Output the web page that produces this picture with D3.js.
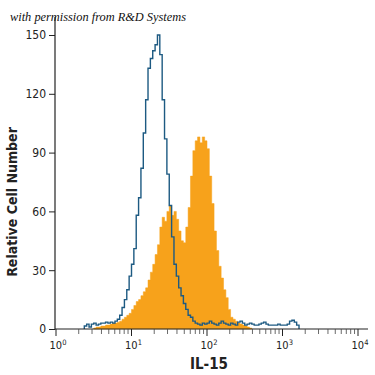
<!DOCTYPE html>
<html>
<head>
<meta charset="utf-8">
<script src="https://cdn.jsdelivr.net/npm/d3@7"></script>
<style>
html,body{margin:0;padding:0;background:#fff;}
svg{display:block;}
</style>
</head>
<body>
<svg id="chart" width="375" height="375"></svg>
<script>
// ---- data ----
const channelStartLog = 0.375;   // log10 of first channel's lower edge
const channelStepLog = 1 / 32;   // channel width in decades
const isotypeCounts = [
  1.5, 2.5, 1, 2.5, 3, 2, 2.5, 3, 3, 3.5, 3, 3.5, 3, 4, 5, 7, 11, 15, 20, 27,
  33, 41, 58, 67, 82, 100, 117, 133, 138, 142, 145, 150, 140, 117, 97, 79, 63, 47, 33, 27,
  21, 17, 13, 10, 7, 6, 4, 3, 2.5, 2, 3, 2.5, 3, 4, 3, 2.5, 2, 3, 4, 3,
  2.5, 2, 3, 2.5, 2, 3.5, 4, 3, 2, 2.5, 3, 2.5, 2, 2, 2.5, 3, 3.5, 2.5, 2, 2,
  2, 2, 2.5, 2, 2, 2, 2.5, 4, 4.5, 3.5, 2
];
const il15Counts = [
  0, 0, 0, 0, 0.5, 1, 1, 1.5, 1.5, 2, 2, 2.5, 3, 3, 3.5, 4, 5, 6, 7, 8,
  10, 12, 14, 15, 17, 19, 21, 25, 29, 33, 38, 43, 52, 57, 55, 60, 63, 58, 60, 56,
  50, 45, 44, 52, 62, 78, 91, 96, 98, 95, 98, 96, 92, 78, 64, 50, 40, 32, 26, 20,
  16, 10, 6, 5, 4, 3, 2.5, 2, 1.5, 1, 0.5
];
const yTicks = [0, 30, 60, 90, 120, 150];
const xDecades = [0, 1, 2, 3, 4];
const titleText = "with permission from R&D Systems";
const xLabel = "IL-15";
const yLabel = "Relative Cell Number";

// ---- drawing ----
const svg = d3.select("#chart");
const x = d3.scaleLog().domain([1, 1e4]).range([56, 358]);
const y = d3.scaleLinear().domain([0, 150]).range([329, 35]);

function stepPoints(counts) {
  const pts = [];
  let first = -1, last = -1;
  counts.forEach((c, i) => { if (c > 0) { if (first < 0) first = i; last = i; } });
  const edge = i => Math.pow(10, channelStartLog + i * channelStepLog);
  pts.push([edge(first), 0]);
  for (let i = first; i <= last; i++) {
    pts.push([edge(i), counts[i]]);
    pts.push([edge(i + 1), counts[i]]);
  }
  pts.push([edge(last + 1), 0]);
  return pts;
}

const line = d3.line().x(d => x(d[0])).y(d => y(d[1]));

// filled IL-15 histogram
svg.append("path")
  .attr("d", line(stepPoints(il15Counts)) + "Z")
  .attr("fill", "#F7A21B")
  .attr("stroke", "#F7A21B")
  .attr("stroke-width", 0.5);

// isotype outline
svg.append("path")
  .attr("d", line(stepPoints(isotypeCounts)))
  .attr("fill", "none")
  .attr("stroke", "#1d5a82")
  .attr("stroke-width", 1.4)
  .attr("stroke-linejoin", "miter");

const axisFont = "'Liberation Sans Narrow','DejaVu Sans Condensed',sans-serif";

// y axis
const yAxis = svg.append("g").attr("transform", "translate(55,0)")
  .call(d3.axisLeft(y).tickValues(yTicks).tickSize(6).tickPadding(3));
yAxis.select(".domain").remove();
yAxis.selectAll("line").attr("stroke", "#222");
yAxis.selectAll("text").attr("font-family", axisFont).attr("font-size", 12).attr("fill", "#222");
svg.append("line").attr("x1", 55).attr("x2", 55).attr("y1", 17).attr("y2", y(0) + 0.5)
  .attr("stroke", "#222").attr("stroke-width", 1.2);

// x axis
svg.append("line").attr("x1", 55).attr("x2", 368).attr("y1", y(0)).attr("y2", y(0))
  .attr("stroke", "#222").attr("stroke-width", 1.2);
const minor = [];
for (let d = 0; d < 4; d++) for (let m = 2; m <= 9; m++) minor.push(m * Math.pow(10, d));
minor.push(2e4 > 1e4 ? null : null);
svg.append("g").selectAll("line").data(minor.filter(v => v)).join("line")
  .attr("x1", d => x(d)).attr("x2", d => x(d))
  .attr("y1", y(0)).attr("y2", y(0) + 5)
  .attr("stroke", "#444").attr("stroke-width", 0.8);
svg.append("g").selectAll("line").data(xDecades).join("line")
  .attr("x1", d => x(Math.pow(10, d))).attr("x2", d => x(Math.pow(10, d)))
  .attr("y1", y(0)).attr("y2", y(0) + 7)
  .attr("stroke", "#222").attr("stroke-width", 1);
const xl = svg.append("g").selectAll("text").data(xDecades).join("text")
  .attr("x", d => x(Math.pow(10, d)) + 2)
  .attr("y", 349)
  .attr("text-anchor", "middle")
  .attr("font-family", axisFont).attr("font-size", 11).attr("fill", "#222");
xl.append("tspan").text("10");
xl.append("tspan").attr("font-size", 7.5).attr("dy", -4).text(d => d);

// labels
svg.append("text").attr("x", 209).attr("y", 369).attr("text-anchor", "middle")
  .attr("font-family", axisFont).attr("font-size", 15).attr("font-weight", "bold")
  .attr("fill", "#222").text(xLabel);
svg.append("text").attr("transform", "translate(17,202) rotate(-90)")
  .attr("text-anchor", "middle")
  .attr("font-family", axisFont).attr("font-size", 14).attr("font-weight", "bold")
  .attr("fill", "#222").text(yLabel);
svg.append("text").attr("x", 10).attr("y", 21)
  .attr("font-family", "'Liberation Serif','DejaVu Serif',serif").attr("font-style", "italic")
  .attr("font-size", 13).attr("fill", "#111")
  .attr("textLength", 176).attr("lengthAdjust", "spacingAndGlyphs")
  .text(titleText);
</script>
</body>
</html>
